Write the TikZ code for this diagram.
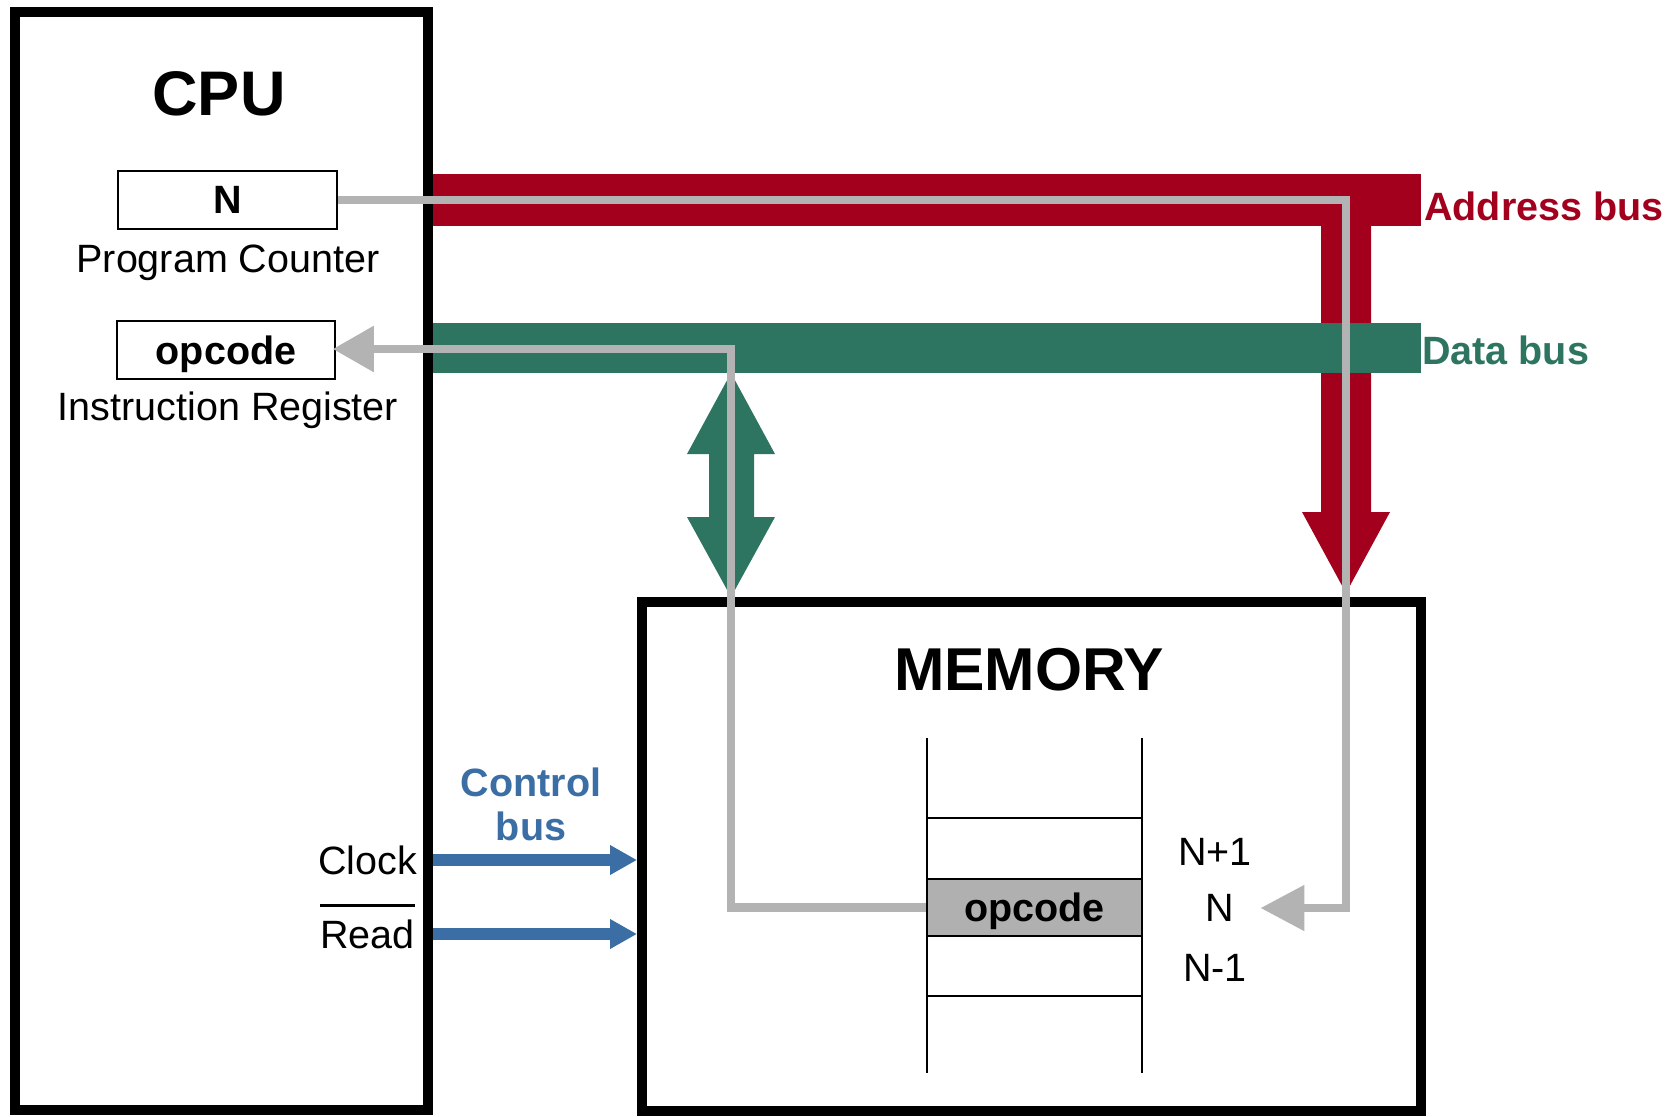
\documentclass[tikz,border=0pt]{standalone}
\usepackage{fontspec}
\setmainfont{Liberation Sans}
\usetikzlibrary{arrows.meta}
\definecolor{abus}{HTML}{A3001E}
\definecolor{dbus}{HTML}{2D7560}
\definecolor{cbus}{HTML}{3A6EA5}
\definecolor{wire}{HTML}{B3B3B3}
\definecolor{cellfill}{HTML}{B0B0B0}
\begin{document}
\begin{tikzpicture}[x=1pt,y=-1pt,
  txt/.style={inner sep=0pt, font=\fontsize{39.5}{44}\selectfont},
  btxt/.style={inner sep=0pt, font=\fontsize{39.5}{44}\selectfont\bfseries},
  title/.style={inner sep=0pt, font=\fontsize{#1}{70}\selectfont\bfseries},
  unit/.style={draw, line width=10pt, inner sep=0pt},
  reg/.style={draw, line width=1.5pt, inner sep=0pt, text depth=0pt},
  wireline/.style={draw=wire, line width=8.5pt},
  ctrl/.style={draw=cbus, line width=12pt, -{Triangle[length=27pt,width=28pt]}},
  cellline/.style={line width=1.5pt},
]
\useasboundingbox (0,0) rectangle (1677,1116);
\fill[white] (0,0) rectangle (1677,1116);

% address bus
\fill[abus] (433,174) rectangle (1421,226);
\fill[abus] (1321,200) -- (1371,200) -- (1371,512) -- (1390,512) -- (1346,593) -- (1302,512) -- (1321,512) -- cycle;
% data bus
\fill[dbus] (433,323) rectangle (1421,373);
\fill[dbus] (731,373) -- (775,454) -- (754,454) -- (754,517) -- (775,517) -- (731,597)
  -- (687,517) -- (709,517) -- (709,454) -- (687,454) -- cycle;

% units
\node[unit, minimum width=413.5pt, minimum height=1097.5pt] (cpu) at (221.25,561.25) {};
\node[unit, minimum width=779pt, minimum height=509pt] (mem) at (1031.5,856.5) {};

% CPU contents
\node[title=63] (cputitle) at (219,94) {CPU};
\node[reg, btxt, minimum width=219pt, minimum height=58pt] (pc) at (227.5,200) {N};
\node[txt] (pclabel) at (228,263) {Program Counter};
\node[reg, btxt, minimum width=218pt, minimum height=58pt] (ir) at (226,350) {opcode};
\node[txt] (irlabel) at (228,410) {Instruction Register};
\node[txt, anchor=east] (clock) at (417,860) {Clock};
\node[txt, anchor=east] (read) at (415,934) {Read};
\draw[line width=2.5pt] ([yshift=14pt]read.north west) -- ([yshift=14pt]read.north east);

% memory contents
\node[title=60.5] (memtitle) at (1029,670) {MEMORY};
\draw[cellline] (927,738) -- (927,1073);
\draw[cellline] (1142,738) -- (1142,1073);
\draw[cellline] (927,818) -- (1142,818);
\draw[cellline] (927,996) -- (1142,996);
\node[reg, btxt, fill=cellfill, minimum width=215pt, minimum height=57pt] (cell) at (1034.5,907.5) {opcode};
\node[txt] (lnp) at (1215,852) {N+1};
\node[txt] (ln) at (1220,908) {N};
\node[txt] (lnm) at (1215,968) {N-1};

% bus labels
\node[btxt, text=abus, anchor=west] (alabel) at (1424,206) {Address bus};
\node[btxt, text=dbus, anchor=west] (dlabel) at (1422,350) {Data bus};
\node[btxt, text=cbus, align=center] (clabel) at (531,804) {Control\\bus};

% control bus arrows
\draw[ctrl] (cpu.east |- clock.east) -- (mem.west |- clock.east);
\draw[ctrl] (cpu.east |- read.east) -- (mem.west |- read.east);

% grey data flow wires
\coordinate (abend) at (1346,908);
\coordinate (dbend) at (731,349);
\draw[wireline, -{Triangle[length=44pt,width=44pt]}, shorten >=26pt] (pc.east) -| (abend) -- (ln.east);
\draw[wireline, -{Triangle[length=41pt,width=44pt]}, shorten >=-3pt] (cell.west) -| (dbend) -- (ir.east |- dbend);
\end{tikzpicture}
\end{document}
